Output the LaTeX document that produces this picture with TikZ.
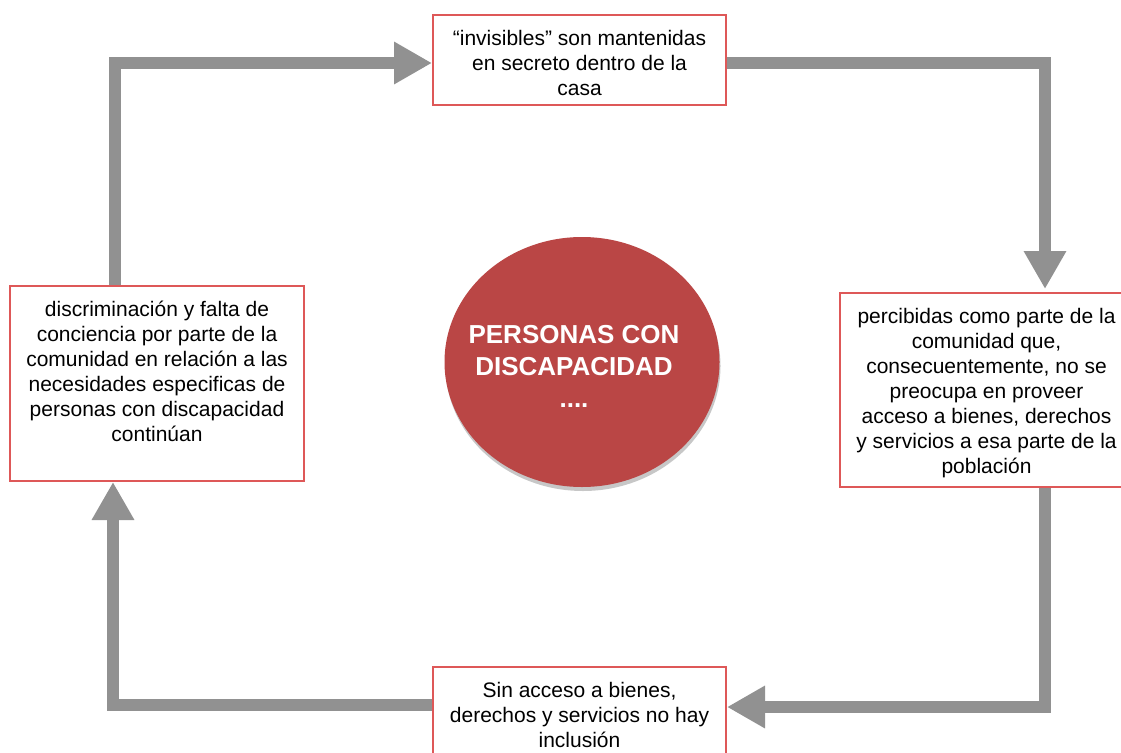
\documentclass[tikz,border=0pt]{standalone}
\usepackage{fontspec}
\setmainfont{Liberation Sans}
\usetikzlibrary{arrows.meta,shapes.geometric,shadows}
\definecolor{arrowgray}{RGB}{145,145,145}
\definecolor{boxred}{RGB}{222,88,88}
\definecolor{hubred}{RGB}{186,70,69}
\newcommand{\cyctext}[3]{\parbox[c][#2][t]{#1}{\centering\fontsize{21}{25}\selectfont\lineskiplimit=-100pt\rule{0pt}{30.5pt}#3\par}}
\tikzset{
  cycbox/.style={draw=boxred, line width=2pt, fill=white, rectangle, inner sep=0pt},
  cycarrow/.style={draw=arrowgray, line width=12pt, line join=miter, -{Triangle[length=38pt,width=40pt]}},
  hub/.style={ellipse, fill=hubred, minimum width=275pt, minimum height=250pt, inner sep=0pt,
    drop shadow={shadow xshift=1pt, shadow yshift=-4pt, opacity=0.22, fill=black}},
  hubtext/.style={text=white, align=center, font=\fontsize{26}{32}\selectfont\bfseries, inner sep=0pt}
}
\begin{document}
\begin{tikzpicture}[x=1pt,y=-1pt]
\useasboundingbox (0,0) rectangle (1121,752);
\clip (0,0) rectangle (1121,752);
\fill[white] (0,0) rectangle (1121,752);

% corner coordinates of the cycle
\coordinate (cTL) at (115,63);
\coordinate (cTR) at (1045,63);
\coordinate (cBR) at (1045,707);
\coordinate (cBL) at (113,705);

% boxes
\node[cycbox] (top) at (579.5,60) {\cyctext{293pt}{90pt}{``invisibles'' son mantenidas\\en secreto dentro de la\\casa}};
\node[cycbox] (right) at (986.5,390) {\cyctext{293pt}{194pt}{percibidas como parte de la\\comunidad que,\\consecuentemente, no se\\preocupa en proveer\\acceso a bienes, derechos\\y servicios a esa parte de la\\población}};
\node[cycbox] (bottom) at (579.5,712) {\cyctext{293pt}{90pt}{Sin acceso a bienes,\\derechos y servicios no hay\\inclusión}};
\node[cycbox] (left) at (157,383.5) {\cyctext{294pt}{195pt}{discriminación y falta de\\conciencia por parte de la\\comunidad en relación a las\\necesidades especificas de\\personas con discapacidad\\continúan}};

% central hub
\node[hub] (hub) at (582,362) {};
\node[hubtext] (hubt) at (574,366) {PERSONAS CON\\DISCAPACIDAD\\....};

% connectors
\draw[cycarrow] (top.east |- cTR) -- (cTR) -- ([yshift=3pt]cTR |- right.north);
\draw[cycarrow] (cBR |- right.south) -- (cBR) -- (bottom.east |- cBR);
\draw[cycarrow] (bottom.west |- cBL) -- (cBL) -- (cBL |- left.south);
\draw[cycarrow] (cTL |- left.north) -- (cTL) -- (top.west |- cTL);
\end{tikzpicture}
\end{document}
